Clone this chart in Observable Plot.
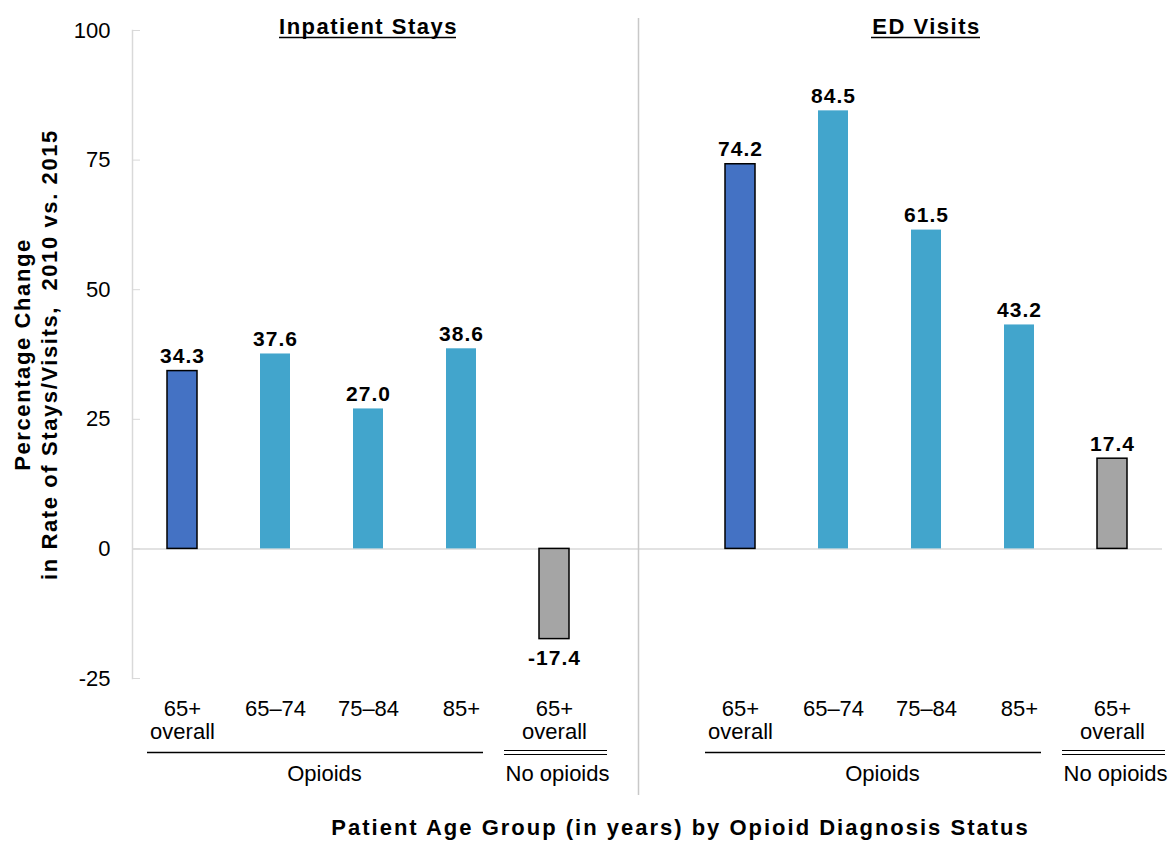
<!DOCTYPE html>
<html><head><meta charset="utf-8">
<script src="https://cdn.jsdelivr.net/npm/d3@7"></script>
<script src="https://cdn.jsdelivr.net/npm/@observablehq/plot@0.6"></script>
<style>body{margin:0;background:#fff} #chart svg{font-family:"Liberation Sans",Arial,sans-serif}</style>
</head><body><div id="chart"></div>
<script>
const panels = ["Inpatient Stays", "ED Visits"];
const ageGroups = ["65+\noverall", "65–74", "75–84", "85+", "65+\noverall"];
const diagnosis = ["Opioids", "Opioids", "Opioids", "Opioids", "No opioids"];
const inpatientValues = [34.3, 37.6, 27.0, 38.6, -17.4];
const edValues = [74.2, 84.5, 61.5, 43.2, 17.4];
const yTicks = [-25, 0, 25, 50, 75, 100];
const xTitle = "Patient Age Group (in years) by Opioid Diagnosis Status";
const yTitle = "Percentage Change\nin Rate of Stays/Visits,  2010 vs. 2015";

const kindColor = {overall: "#4472C4", age: "#42A5CC", none: "#A5A5A5"};
const keyOf = (p, i) => `${p}-${i}`;
const rows = [];
[inpatientValues, edValues].forEach((vals, p) => vals.forEach((v, i) => rows.push({
  key: keyOf(p, i), panel: panels[p], age: ageGroups[i], diag: diagnosis[i], value: v,
  kind: i === 0 ? "overall" : (i === 4 ? "none" : "age")
})));
const domain = [...rows.filter(d => d.panel === panels[0]).map(d => d.key), "gap", ...rows.filter(d => d.panel === panels[1]).map(d => d.key)];
const titleRows = panels.map((p, i) => ({key: keyOf(i, 2), text: p}));
const opioidGroups = panels.map((p, i) => ({x1: keyOf(i, 0), x2: keyOf(i, 3), mid: keyOf(i, 1), text: "Opioids"}));
const noOpioidGroups = panels.map((p, i) => ({x1: keyOf(i, 4), x2: keyOf(i, 4), text: "No opioids"}));
const yMin = yTicks[0], yMax = yTicks[yTicks.length - 1];

const font = "Liberation Sans, Arial, sans-serif";
const chart = Plot.plot({
  width: 1173, height: 842,
  marginLeft: 132, marginRight: 11, marginTop: 30, marginBottom: 164,
  style: {fontFamily: font, fontSize: "22px", color: "#000", background: "#fff"},
  x: {type: "band", domain, paddingInner: 0.68, paddingOuter: 0.34, axis: null},
  y: {domain: [yMin, yMax], axis: null},
  marks: [
    Plot.frame({anchor: "left", stroke: "#d9d9d9", strokeWidth: 1.5}),
    Plot.axisY(yTicks, {tickSize: 8, dx: 8, tickPadding: 22, stroke: "#d9d9d9", fill: "#000", fontSize: 22, label: null, tickFormat: d => String(d)}),
    Plot.ruleY([0], {stroke: "#d9d9d9", strokeWidth: 1.5}),
    Plot.ruleX(["gap"], {insetTop: -12, insetBottom: -117, dx: -9, stroke: "#c8c8c8", strokeWidth: 1.5}),
    Plot.barY(rows.filter(d => d.kind === "age"), {x: "key", y: "value", fill: d => kindColor[d.kind]}),
    Plot.barY(rows.filter(d => d.kind !== "age"), {x: "key", y: "value", fill: d => kindColor[d.kind], stroke: "#000", strokeWidth: 1.5}),
    Plot.text(rows.filter(d => d.value >= 0), {x: "key", y: "value", text: d => d.value.toFixed(1), lineAnchor: "bottom", dy: -8, fontWeight: "bold", fontSize: 21, fill: "#000"}),
    Plot.text(rows.filter(d => d.value < 0), {x: "key", y: "value", text: d => d.value.toFixed(1), lineAnchor: "top", dy: 11, fontWeight: "bold", fontSize: 21, fill: "#000"}),
    Plot.text(titleRows, {x: "key", text: "text", frameAnchor: "top", lineAnchor: "bottom", dy: 3, fontWeight: "bold", fontSize: 22, fill: "#000"}),
    Plot.ruleY(titleRows.slice(0, 1), {x1: "key", x2: "key", y: yMax, dy: 7, insetLeft: -74, insetRight: -73, stroke: "#000", strokeWidth: 1.5}),
    Plot.ruleY(titleRows.slice(1), {x1: "key", x2: "key", y: yMax, dy: 7, insetLeft: -40, insetRight: -39, stroke: "#000", strokeWidth: 1.5}),
    Plot.text(rows, {x: "key", text: "age", frameAnchor: "bottom", lineAnchor: "top", dy: 21, lineHeight: 1.05, fontSize: 22, fill: "#000"}),
    Plot.ruleY(opioidGroups, {x1: "x1", x2: "x2", y: yMin, dy: 74, insetLeft: -20, insetRight: -7, stroke: "#000", strokeWidth: 1.5}),
    Plot.ruleY(noOpioidGroups, {x1: "x1", x2: "x2", y: yMin, dy: 72, insetLeft: -35, insetRight: -38, stroke: "#000", strokeWidth: 1.2}),
    Plot.ruleY(noOpioidGroups, {x1: "x1", x2: "x2", y: yMin, dy: 76, insetLeft: -35, insetRight: -38, stroke: "#000", strokeWidth: 1.2}),
    Plot.text(opioidGroups, {x: "mid", text: "text", frameAnchor: "bottom", lineAnchor: "top", dy: 87, dx: 49, fontSize: 22, fill: "#000"}),
    Plot.text(noOpioidGroups, {x: "x1", text: "text", frameAnchor: "bottom", lineAnchor: "top", dy: 87, dx: 3, fontSize: 22, fill: "#000"}),
    Plot.text([xTitle], {frameAnchor: "bottom", lineAnchor: "top", dy: 141, dx: 33, fontWeight: "bold", fontSize: 22, fill: "#000", text: d => d}),
    Plot.text([yTitle], {frameAnchor: "left", textAnchor: "middle", rotate: -90, dx: -98, lineAnchor: "middle", lineHeight: 1.25, fontWeight: "bold", fontSize: 22, fill: "#000", text: d => d})
  ]
});
// letter spacing of the bold texts (Plot has no letter-spacing option)
d3.select(chart).selectAll("text").each(function() {
  const t = this.textContent;
  let ls = null;
  if (panels.includes(t)) ls = "1.5px";
  else if (t === xTitle) ls = "2px";
  else if (t.startsWith("Percentage")) ls = "1.6px";
  else if (/^-?\d+\.\d$/.test(t)) ls = "1px";
  if (ls) d3.select(this).style("letter-spacing", ls);
});
document.getElementById("chart").appendChild(chart);
</script>
</body></html>
